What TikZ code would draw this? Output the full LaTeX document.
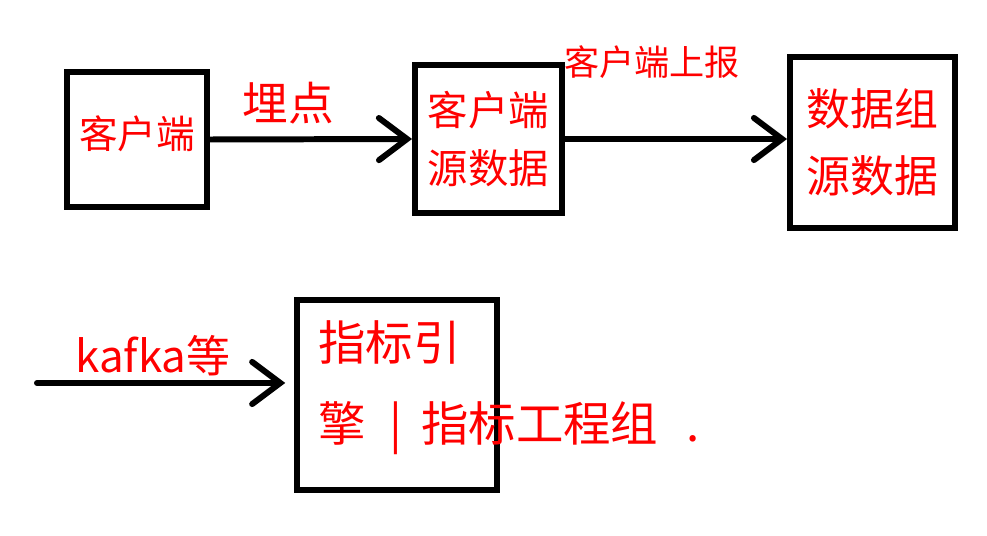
\documentclass[tikz,border=0pt]{standalone}
\usepackage{fontspec}
\newfontfamily\cjk{Noto Sans CJK SC}
\usetikzlibrary{positioning, arrows.meta}
\definecolor{ink}{HTML}{000000}
\definecolor{pen}{HTML}{FF0000}

\begin{document}
\begin{tikzpicture}[x=0.02cm, y=-0.02cm,
  box/.style={draw=ink, line width=3.4pt, inner sep=0pt, align=center, text=pen},
  lbl/.style={text=pen, inner sep=0pt, align=left},
  arr/.style={draw=ink, line width=3.4pt, line cap=round, -{Straight Barb[length=16pt, width=24pt, line cap=round]}}]
\useasboundingbox (0,0) rectangle (987,536);
% top row
\node[box, minimum width=2.8cm, minimum height=2.7cm, font=\cjk\fontsize{22}{26}\selectfont] (client) at (137,139.5) {\raisebox{8.5pt}{客户端}};
\node[box, minimum width=2.94cm, minimum height=2.96cm, font=\cjk\fontsize{23}{33}\selectfont] (src) at (488.5,139) {客户端\\源数据};
\node[box, minimum width=3.3cm, minimum height=3.42cm, font=\cjk\fontsize{25}{38}\selectfont] (lake) at (872.5,142.5) {数据组\\源数据};
\draw[arr] (client.east) -- (src.west);
\draw[arr] (src.east) -- (src.east -| lake.west);
\node[lbl, font=\cjk\fontsize{26}{30}\selectfont] (bury) at (288,103) {埋点};
\node[lbl, font=\cjk\fontsize{20}{22}\selectfont] (report) at (652,62) {客户端上报};
% bottom row
\node[box, minimum width=4.0cm, minimum height=3.8cm] (idx) at (397,395) {};
\coordinate (feed) at (37,383);
\draw[arr, shorten >=5pt] (feed) -- (feed -| idx.west);
\node[lbl, font=\cjk\fontsize{25}{28}\selectfont] (kafka) at (153,356) {kafka等};
\node[lbl, anchor=north west, font=\cjk\fontsize{27}{46}\selectfont] (engine) at (318,320) {指标引\\擎\hspace{0.5em}|\hspace{0.4em}指标工程组\hspace{0.6em}.};
\end{tikzpicture}
\end{document}
